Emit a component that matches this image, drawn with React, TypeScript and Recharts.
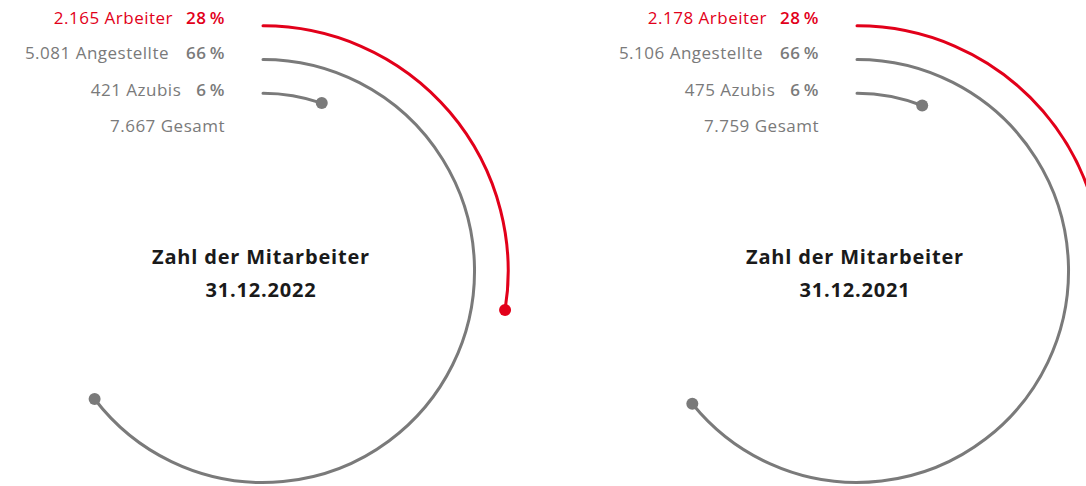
import { RadialBarChart, RadialBar, PolarAngleAxis } from 'recharts';

// Mitarbeiter nach Gruppe, innen -> außen
const groups = ['Azubis', 'Angestellte', 'Arbeiter'];
const counts2022 = [421, 5081, 2165];
const counts2021 = [475, 5106, 2178];
const shares2022 = [6, 66, 28];
const shares2021 = [6, 66, 28];
const totals = [7667, 7759];
const dates = ['31.12.2022', '31.12.2021'];
const colors = ['#7a7a7a', '#7a7a7a', '#e2001a'];

const RAD = Math.PI / 180;
const FONT = '"Open Sans", Arial, sans-serif';

const fmt = (n: number) => n.toLocaleString('de-DE');

const ArcShape = (props: any) => {
    const { cx, cy, innerRadius, outerRadius, startAngle, endAngle, payload } = props;
    const r = (innerRadius + outerRadius) / 2;
    const color = payload?.color ?? '#7a7a7a';
    const pt = (a: number) => [cx + r * Math.cos(-a * RAD), cy + r * Math.sin(-a * RAD)];
    const [x0, y0] = pt(startAngle);
    const [x1, y1] = pt(endAngle);
    const sweep = Math.abs(startAngle - endAngle);
    return (
        <g>
            <path
                d={`M${x0},${y0} A${r},${r} 0 ${sweep > 180 ? 1 : 0} 1 ${x1},${y1}`}
                stroke={color}
                strokeWidth={3}
                fill='none'
                strokeLinecap='round'
            />
            <circle cx={x1} cy={y1} r={6} fill={color} />
        </g>
    );
};

function Panel({ counts, shares, total, date, left }: { counts: number[]; shares: number[]; total: number; date: string; left: number }) {
    const data = groups.map((g, i) => ({ name: g, value: counts[i], color: colors[i] }));
    // Legendenzeilen von oben nach unten
    const rows = [2, 1, 0].map((i) => ({ count: counts[i], name: groups[i], share: shares[i], color: colors[i] }));
    const rowY = [24, 59, 96];
    const gaps = [13, 17, 15];

    return (
        <div style={{ position: 'absolute', left, top: 0, width: 560, height: 486 }}>
            <RadialBarChart
                width={560}
                height={486}
                cx={263}
                cy={271}
                innerRadius={161}
                outerRadius={262}
                startAngle={90}
                endAngle={-270}
                data={data}
                margin={{ top: 0, right: 0, bottom: 0, left: 0 }}
            >
                <PolarAngleAxis type='number' domain={[0, total * 1.025]} tick={false} axisLine={false} />
                <RadialBar dataKey='value' shape={ArcShape} isAnimationActive={false} />
            </RadialBarChart>
            <svg width={560} height={486} style={{ position: 'absolute', left: 0, top: 0, pointerEvents: 'none' }}>
                <g fontFamily={FONT} fontSize={17} letterSpacing={0.5}>
                    {rows.map((row, k) => (
                        <text key={row.name} x={225} y={rowY[k]} textAnchor='end' fill={row.color}>
                            <tspan fontWeight={500}>{fmt(row.count)}</tspan>
                            <tspan> {row.name}</tspan>
                            <tspan dx={gaps[k]} fontWeight={600}>
                                {row.share}
                                {'\u2009%'}
                            </tspan>
                        </text>
                    ))}
                    <text x={225} y={132} textAnchor='end' fill='#7a7a7a'>
                        <tspan fontWeight={500}>{fmt(total)}</tspan>
                        <tspan> Gesamt</tspan>
                    </text>
                </g>
                <g fontFamily={FONT} fontSize={20} fontWeight={700} letterSpacing={0.8} fill='#1a1a1a' textAnchor='middle'>
                    <text x={261} y={264}>
                        Zahl der Mitarbeiter
                    </text>
                    <text x={261} y={297}>
                        {date}
                    </text>
                </g>
            </svg>
        </div>
    );
}

export default function App() {
    return (
        <div style={{ position: 'absolute', left: 0, top: 0, width: 1086, height: 486, overflow: 'hidden', background: '#fff' }}>
            <Panel counts={counts2022} shares={shares2022} total={totals[0]} date={dates[0]} left={0} />
            <Panel counts={counts2021} shares={shares2021} total={totals[1]} date={dates[1]} left={594} />
        </div>
    );
}
